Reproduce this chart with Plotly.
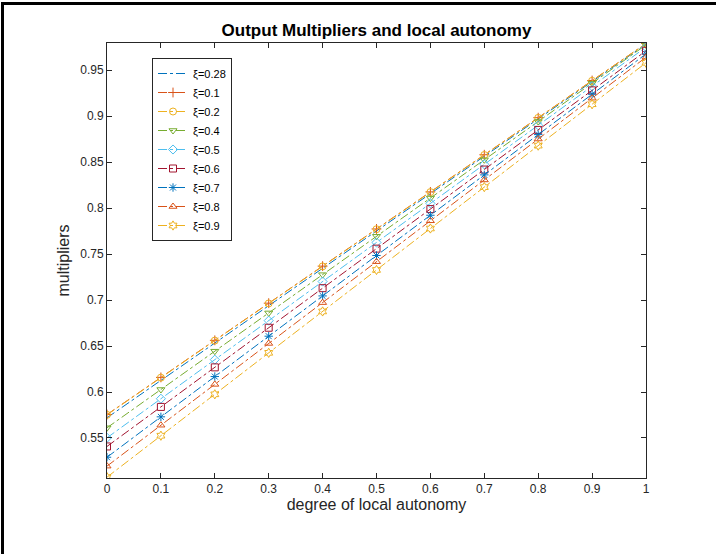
import plotly.graph_objects as go

x_vals = [0, 0.1, 0.2, 0.3, 0.4, 0.5, 0.6, 0.7, 0.8, 0.9, 1.0]

series_names = ["ξ=0.28", "ξ=0.1", "ξ=0.2", "ξ=0.4", "ξ=0.5", "ξ=0.6", "ξ=0.7", "ξ=0.8", "ξ=0.9"]

xi_028 = [0.5720, 0.6126, 0.6532, 0.6939, 0.7345, 0.7751, 0.8157, 0.8563, 0.8970, 0.9376, 0.9782]
xi_01 = [0.5755, 0.6159, 0.6562, 0.6966, 0.7369, 0.7773, 0.8176, 0.8580, 0.8983, 0.9387, 0.9790]
xi_02 = [0.5752, 0.6156, 0.6559, 0.6963, 0.7366, 0.7770, 0.8174, 0.8577, 0.8981, 0.9384, 0.9788]
xi_04 = [0.5611, 0.6027, 0.6444, 0.6860, 0.7276, 0.7693, 0.8109, 0.8525, 0.8941, 0.9358, 0.9774]
xi_05 = [0.5502, 0.5927, 0.6352, 0.6776, 0.7201, 0.7626, 0.8051, 0.8476, 0.8900, 0.9325, 0.9750]
xi_06 = [0.5408, 0.5838, 0.6268, 0.6699, 0.7129, 0.7559, 0.7989, 0.8419, 0.8850, 0.9280, 0.9710]
xi_07 = [0.5291, 0.5730, 0.6168, 0.6607, 0.7045, 0.7484, 0.7922, 0.8361, 0.8799, 0.9238, 0.9676]
xi_08 = [0.5194, 0.5639, 0.6083, 0.6528, 0.6972, 0.7417, 0.7862, 0.8306, 0.8751, 0.9195, 0.9640]
xi_09 = [0.5074, 0.5525, 0.5975, 0.6426, 0.6876, 0.7327, 0.7778, 0.8228, 0.8679, 0.9129, 0.9580]

series_values = [xi_028, xi_01, xi_02, xi_04, xi_05, xi_06, xi_07, xi_08, xi_09]
colors = ["#0072BD", "#D95319", "#EDB120", "#77AC30", "#4DBEEE", "#A2142F", "#0072BD", "#D95319", "#EDB120"]
symbols = [None, "cross-thin-open", "circle-open", "triangle-down-open", "diamond-open",
           "square-open", "asterisk-open", "triangle-up-open", "hexagram-open"]

x_ticks = [0, 0.1, 0.2, 0.3, 0.4, 0.5, 0.6, 0.7, 0.8, 0.9, 1]
x_tick_labels = ["0", "0.1", "0.2", "0.3", "0.4", "0.5", "0.6", "0.7", "0.8", "0.9", "1"]
y_ticks = [0.55, 0.6, 0.65, 0.7, 0.75, 0.8, 0.85, 0.9, 0.95]
y_tick_labels = ["0.55", "0.6", "0.65", "0.7", "0.75", "0.8", "0.85", "0.9", "0.95"]

FONT = "Liberation Sans, Arial, Helvetica, sans-serif"
AX = "#262626"

fig = go.Figure()
for name, vals, col, sym in zip(series_names, series_values, colors, symbols):
    if sym is None:
        fig.add_trace(go.Scatter(x=x_vals, y=vals, name=name, mode="lines",
                                 line=dict(color=col, width=1, dash="dashdot")))
    else:
        fig.add_trace(go.Scatter(x=x_vals, y=vals, name=name, mode="lines+markers",
                                 line=dict(color=col, width=1, dash="dashdot"),
                                 marker=dict(symbol=sym, size=7, color=col,
                                             line=dict(color=col, width=1))))

fig.update_layout(
    width=721, height=554,
    margin=dict(l=107, r=75, t=43, b=76),
    paper_bgcolor="white", plot_bgcolor="white",
    font=dict(family=FONT, color=AX, size=12),
    title=dict(text="<b>Output Multipliers and local autonomy</b>", x=0.5, xref="paper",
               y=1 - 30 / 554, yanchor="middle", font=dict(size=17, color="black", family=FONT)),
    showlegend=True,
    legend=dict(x=0.0835, y=0.9655, xanchor="left", yanchor="top",
                bgcolor="white", bordercolor=AX, borderwidth=1,
                font=dict(size=11, color="black", family=FONT),
                tracegroupgap=0, itemwidth=30),
)
fig.update_xaxes(range=[0, 1], tickvals=x_ticks, ticktext=x_tick_labels,
                 showgrid=False, zeroline=False, showline=True, linecolor=AX, linewidth=1,
                 mirror="allticks", ticks="inside", ticklen=5, tickcolor=AX,
                 tickfont=dict(size=12, color=AX),
                 title=dict(text="degree of local autonomy", font=dict(size=16, color=AX), standoff=2))
fig.update_yaxes(range=[0.5065, 0.9795], tickvals=y_ticks, ticktext=y_tick_labels,
                 showgrid=False, zeroline=False, showline=True, linecolor=AX, linewidth=1,
                 mirror="allticks", ticks="inside", ticklen=5, tickcolor=AX,
                 tickfont=dict(size=12, color=AX),
                 title=dict(text="multipliers", font=dict(size=16, color=AX), standoff=6))

# outer frame lines (top and left) of the original screenshot
fig.add_shape(type="line", xref="paper", yref="paper",
              x0=(2.5 - 107) / 539, x1=(716 - 107) / 539,
              y0=(478 - 3.5) / 435, y1=(478 - 3.5) / 435,
              line=dict(color="black", width=3))
fig.add_shape(type="line", xref="paper", yref="paper",
              x0=(2.5 - 107) / 539, x1=(2.5 - 107) / 539,
              y0=(478 - 2) / 435, y1=(478 - 560) / 435,
              line=dict(color="black", width=3))

fig.write_html("out.html")
